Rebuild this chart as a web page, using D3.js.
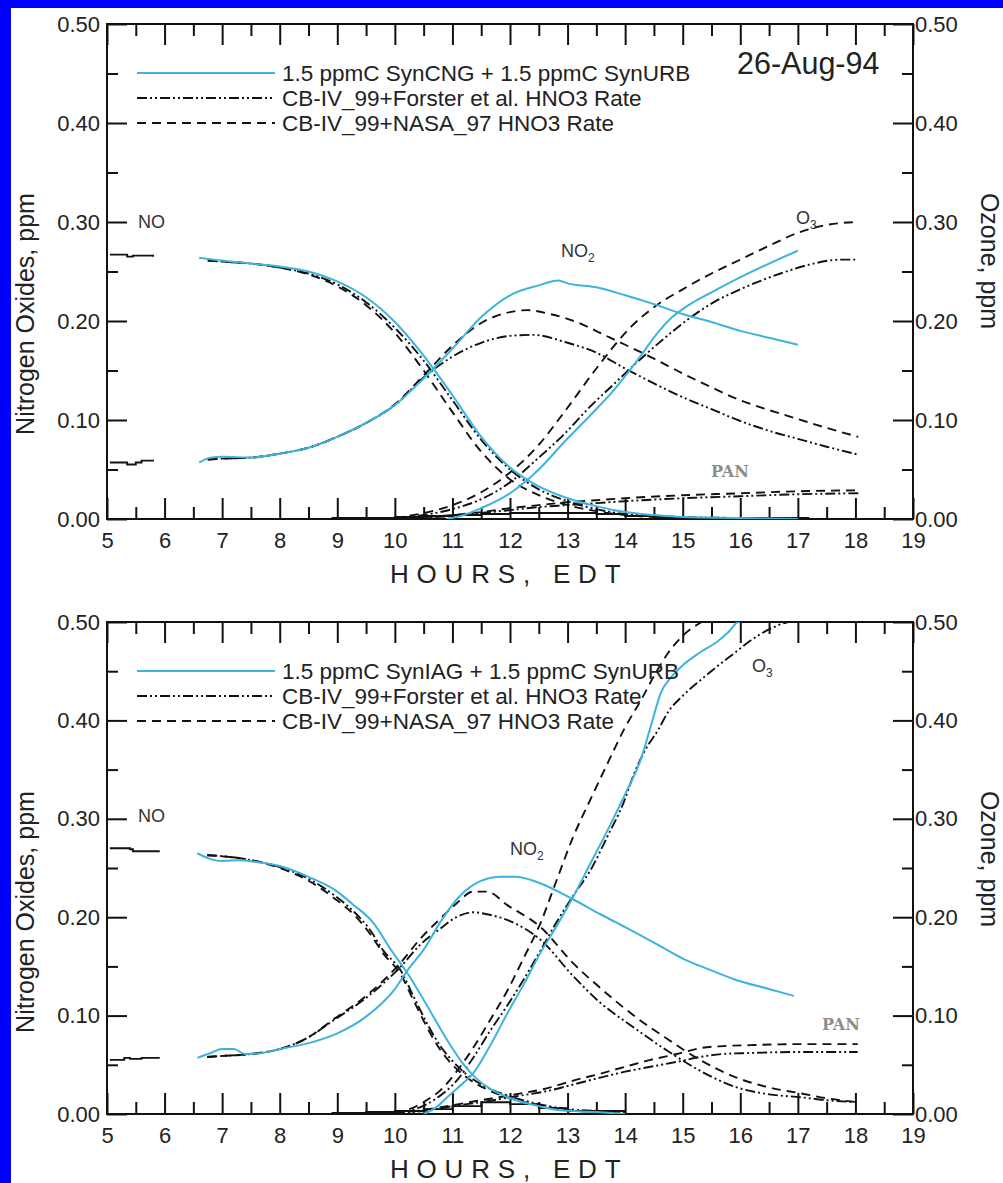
<!DOCTYPE html>
<html>
<head>
<meta charset="utf-8">
<script src="https://cdn.jsdelivr.net/npm/d3@7"></script>
<style>
  html, body { margin: 0; padding: 0; background: #fff; }
  svg { display: block; font-family: "Liberation Sans", Arial, sans-serif; }
</style>
</head>
<body>
<svg id="chart" width="1003" height="1183"></svg>
<script>
// ---------- axis ticks ----------
const hourTicks = d3.range(5, 20);
const hourMinor = d3.range(5.5, 19, 1);
const ppmTicks = [0, 0.1, 0.2, 0.3, 0.4, 0.5];
const ppmMinor = [0.05, 0.15, 0.25, 0.35, 0.45];

const legendTop = ['1.5 ppmC SynCNG + 1.5 ppmC SynURB', 'CB-IV_99+Forster et al. HNO3 Rate', 'CB-IV_99+NASA_97 HNO3 Rate'];
const legendBottom = ['1.5 ppmC SynIAG + 1.5 ppmC SynURB', 'CB-IV_99+Forster et al. HNO3 Rate', 'CB-IV_99+NASA_97 HNO3 Rate'];

// ---------- top panel (26-Aug-94, SynCNG) : [hour, ppm] ----------
const topObsNO = [[5.05, 0.267], [5.3, 0.267], [5.35, 0.265], [5.45, 0.266], [5.6, 0.266], [5.8, 0.265]];
const topObsNO2 = [[5.05, 0.057], [5.3, 0.057], [5.35, 0.055], [5.5, 0.057], [5.6, 0.059], [5.8, 0.058]];
const topObsLow = [[8.9, 0.001], [9.5, 0.001], [10, 0.002], [10.5, 0.003], [11, 0.004], [11.5, 0.005], [12, 0.006], [13, 0.006], [13.5, 0.005], [14, 0.003], [14.5, 0.002], [15, 0.001], [17.2, 0.001]];

const topSimNO = [[6.6, 0.264], [7, 0.261], [7.5, 0.258], [8, 0.255], [8.5, 0.25], [9, 0.24], [9.5, 0.224], [10, 0.199], [10.5, 0.165], [11, 0.125], [11.5, 0.083], [12, 0.052], [12.5, 0.033], [13, 0.021], [13.5, 0.013], [14, 0.007], [14.5, 0.004], [15, 0.002], [16, 0.001], [17, 0]];
const topSimNO2 = [[6.6, 0.057], [6.8, 0.062], [7, 0.063], [7.5, 0.062], [8, 0.066], [8.5, 0.072], [9, 0.083], [9.5, 0.097], [10, 0.115], [10.5, 0.142], [11, 0.172], [11.5, 0.204], [12, 0.226], [12.5, 0.236], [12.84, 0.241], [13, 0.238], [13.5, 0.234], [14, 0.226], [14.5, 0.217], [15, 0.207], [15.5, 0.199], [16, 0.19], [16.5, 0.183], [17, 0.176]];
const topSimO3 = [[10.9, 0], [11.2, 0.004], [11.5, 0.011], [12, 0.026], [12.5, 0.05], [12.93, 0.077], [13.4, 0.105], [13.8, 0.13], [14.26, 0.164], [14.55, 0.187], [14.8, 0.203], [15.1, 0.216], [15.5, 0.229], [16.1, 0.247], [16.5, 0.258], [17, 0.271]];

const topForNO = [[6.75, 0.261], [7, 0.26], [7.5, 0.258], [8, 0.254], [8.5, 0.248], [9, 0.237], [9.5, 0.219], [10, 0.193], [10.5, 0.16], [11, 0.12], [11.5, 0.08], [12, 0.05], [12.5, 0.03], [13, 0.018], [13.5, 0.01], [14, 0.005], [15, 0.002], [16, 0.001], [17, 0]];
const topForNO2 = [[6.75, 0.06], [7, 0.061], [7.5, 0.062], [8, 0.066], [8.5, 0.072], [9, 0.083], [9.5, 0.097], [10, 0.115], [10.5, 0.143], [11, 0.164], [11.5, 0.178], [12, 0.185], [12.4, 0.186], [13, 0.178], [13.5, 0.168], [14, 0.152], [14.5, 0.137], [15, 0.123], [15.5, 0.111], [16, 0.099], [16.5, 0.089], [17, 0.081], [17.5, 0.073], [18.05, 0.065]];
const topForO3 = [[10, 0.001], [10.5, 0.004], [11, 0.01], [11.5, 0.02], [12, 0.037], [12.5, 0.062], [12.93, 0.085], [13.4, 0.114], [13.8, 0.136], [14.2, 0.158], [14.67, 0.182], [15.1, 0.202], [15.54, 0.219], [16, 0.232], [16.7, 0.248], [17.2, 0.257], [17.75, 0.262], [18.05, 0.262]];
const topForPAN = [[10.3, 0.001], [11, 0.003], [11.5, 0.006], [12, 0.009], [12.5, 0.012], [13, 0.014], [13.5, 0.016], [14, 0.018], [15, 0.021], [16, 0.023], [17, 0.025], [18.05, 0.026]];

const topNasaNO = [[6.75, 0.261], [7, 0.26], [7.5, 0.258], [8, 0.254], [8.5, 0.247], [9, 0.235], [9.5, 0.216], [10, 0.188], [10.5, 0.15], [11, 0.108], [11.5, 0.068], [12, 0.04], [12.5, 0.024], [13, 0.014], [13.5, 0.008], [14, 0.004], [15, 0.001], [16, 0], [17, 0]];
const topNasaNO2 = [[6.75, 0.06], [7, 0.061], [7.5, 0.062], [8, 0.066], [8.5, 0.072], [9, 0.083], [9.5, 0.097], [10, 0.116], [10.5, 0.145], [11, 0.175], [11.5, 0.198], [12, 0.209], [12.3, 0.211], [12.7, 0.207], [13.2, 0.198], [13.6, 0.187], [14, 0.176], [14.5, 0.162], [15, 0.147], [15.5, 0.133], [16, 0.12], [16.5, 0.11], [17, 0.101], [17.5, 0.092], [18.05, 0.083]];
const topNasaO3 = [[10, 0.001], [10.5, 0.006], [11, 0.014], [11.5, 0.027], [12, 0.047], [12.5, 0.075], [12.93, 0.107], [13.5, 0.152], [14.1, 0.194], [14.5, 0.214], [15, 0.232], [15.5, 0.248], [16, 0.262], [16.5, 0.276], [17, 0.289], [17.5, 0.297], [18.05, 0.3]];
const topNasaPAN = [[10.3, 0.001], [11, 0.004], [11.5, 0.007], [12, 0.011], [12.5, 0.014], [13, 0.017], [13.5, 0.019], [14, 0.021], [15, 0.024], [16, 0.026], [17, 0.028], [18.05, 0.029]];

// ---------- bottom panel (SynIAG) ----------
const botObsNO = [[5.05, 0.27], [5.4, 0.269], [5.45, 0.267], [5.9, 0.266]];
const botObsNO2 = [[5.05, 0.055], [5.3, 0.057], [5.4, 0.056], [5.6, 0.057], [5.9, 0.058]];
const botObsLow = [[8.9, 0.001], [9.5, 0.002], [10, 0.003], [10.5, 0.005], [11, 0.008], [11.5, 0.012], [12, 0.01], [12.5, 0.006], [13, 0.003], [14, 0.001]];

const botSimNO = [[6.57, 0.265], [6.8, 0.259], [7, 0.257], [7.3, 0.258], [7.6, 0.256], [8, 0.252], [8.5, 0.241], [9, 0.226], [9.25, 0.214], [9.63, 0.194], [9.92, 0.168], [10.22, 0.143], [10.57, 0.109], [10.91, 0.075], [11.2, 0.05], [11.4, 0.037], [11.96, 0.017], [12.5, 0.008], [12.83, 0.004], [13.5, 0.002], [14, 0]];
const botSimNO2 = [[6.57, 0.057], [6.8, 0.062], [7, 0.066], [7.2, 0.066], [7.4, 0.061], [7.7, 0.062], [8, 0.066], [8.5, 0.072], [9, 0.082], [9.5, 0.099], [10, 0.127], [10.22, 0.146], [10.5, 0.167], [10.8, 0.196], [11.09, 0.219], [11.4, 0.234], [11.83, 0.241], [12.1, 0.241], [12.5, 0.235], [13.1, 0.218], [13.57, 0.203], [14, 0.19], [14.57, 0.172], [15, 0.158], [15.5, 0.146], [15.89, 0.137], [16.5, 0.127], [16.93, 0.12]];
const botSimO3 = [[10.5, 0], [10.7, 0.006], [10.91, 0.017], [11.1, 0.027], [11.37, 0.042], [11.66, 0.07], [11.96, 0.103], [12.25, 0.133], [12.53, 0.164], [12.8, 0.19], [13.1, 0.221], [13.4, 0.255], [13.7, 0.289], [14, 0.325], [14.27, 0.36], [14.45, 0.395], [14.62, 0.428], [14.8, 0.444], [15.02, 0.457], [15.3, 0.469], [15.6, 0.48], [15.8, 0.49], [15.96, 0.5], [16.5, 0.505]];

const botForNO = [[6.74, 0.263], [7, 0.262], [7.5, 0.258], [8, 0.251], [8.5, 0.239], [9, 0.22], [9.3, 0.205], [9.57, 0.187], [9.8, 0.166], [10.1, 0.146], [10.32, 0.12], [10.55, 0.093], [10.78, 0.07], [11, 0.054], [11.25, 0.04], [11.6, 0.027], [12, 0.018], [12.5, 0.01], [13, 0.005], [13.5, 0.003], [14, 0.001]];
const botForNO2 = [[6.74, 0.058], [7, 0.059], [7.5, 0.061], [8, 0.066], [8.5, 0.078], [8.93, 0.095], [9.5, 0.118], [9.86, 0.136], [10.09, 0.149], [10.44, 0.172], [10.78, 0.188], [11.07, 0.2], [11.36, 0.205], [11.6, 0.203], [12, 0.196], [12.53, 0.177], [13.1, 0.14], [13.57, 0.113], [14.1, 0.09], [14.74, 0.064], [15.3, 0.044], [15.89, 0.028], [16.5, 0.02], [17.05, 0.017], [17.5, 0.014], [18.04, 0.012]];
const botForO3 = [[10, 0.001], [10.4, 0.006], [10.7, 0.015], [11.09, 0.035], [11.37, 0.058], [11.66, 0.085], [11.95, 0.11], [12.23, 0.136], [12.5, 0.163], [12.8, 0.194], [13.1, 0.222], [13.4, 0.248], [13.7, 0.283], [13.97, 0.316], [14.15, 0.345], [14.35, 0.37], [14.57, 0.39], [14.74, 0.408], [15, 0.425], [15.31, 0.441], [15.6, 0.455], [15.89, 0.468], [16.2, 0.482], [16.48, 0.492], [16.83, 0.5], [17, 0.502]];
const botForPAN = [[10, 0.001], [10.5, 0.003], [11, 0.008], [11.5, 0.012], [12, 0.017], [12.7, 0.024], [13.1, 0.03], [13.57, 0.037], [14, 0.043], [14.44, 0.048], [14.9, 0.053], [15.31, 0.058], [15.7, 0.061], [16.18, 0.062], [17, 0.063], [18.04, 0.063]];

const botNasaNO = [[6.74, 0.263], [7, 0.262], [7.5, 0.258], [8, 0.25], [8.5, 0.237], [9, 0.217], [9.3, 0.202], [9.57, 0.183], [9.8, 0.163], [10.1, 0.142], [10.32, 0.116], [10.55, 0.089], [10.78, 0.066], [11, 0.05], [11.25, 0.037], [11.6, 0.025], [12, 0.016], [12.5, 0.009], [13, 0.004], [13.5, 0.002], [14, 0.001]];
const botNasaNO2 = [[6.74, 0.058], [7, 0.059], [7.5, 0.061], [8, 0.066], [8.5, 0.078], [8.93, 0.096], [9.5, 0.12], [9.86, 0.139], [10.09, 0.153], [10.44, 0.178], [10.78, 0.198], [11.07, 0.214], [11.36, 0.226], [11.6, 0.226], [11.96, 0.212], [12.53, 0.19], [13.1, 0.153], [13.57, 0.128], [14.15, 0.1], [14.74, 0.076], [15.3, 0.055], [15.89, 0.038], [16.5, 0.027], [17.05, 0.021], [17.5, 0.016], [18.04, 0.012]];
const botNasaO3 = [[10, 0.001], [10.3, 0.006], [10.55, 0.014], [10.79, 0.024], [11.07, 0.043], [11.37, 0.068], [11.66, 0.096], [11.96, 0.126], [12.25, 0.16], [12.53, 0.194], [12.8, 0.236], [13.1, 0.282], [13.4, 0.32], [13.7, 0.357], [14, 0.393], [14.27, 0.42], [14.5, 0.445], [14.74, 0.468], [15, 0.486], [15.3, 0.499], [15.6, 0.506]];
const botNasaPAN = [[10, 0.001], [10.5, 0.004], [11, 0.009], [11.5, 0.014], [12, 0.019], [12.7, 0.027], [13.1, 0.034], [13.57, 0.041], [14, 0.048], [14.44, 0.055], [14.9, 0.061], [15.31, 0.067], [15.7, 0.069], [16.18, 0.07], [17, 0.071], [18.04, 0.071]];

// ---------- drawing ----------
const SIM_BLUE = '#3db3dd';
const styles = {
    obs: { stroke: '#111', dash: null, curve: d3.curveStepAfter },
    sim: { stroke: SIM_BLUE, dash: null, curve: d3.curveMonotoneX },
    forster: { stroke: '#111', dash: '10,3,2,3,2,3', curve: d3.curveMonotoneX },
    nasa: { stroke: '#111', dash: '9,6', curve: d3.curveMonotoneX }
};

const svg = d3.select('#chart');

// blue frame of the scan
svg.append('rect').attr('x', 0).attr('y', 0).attr('width', 1003).attr('height', 8).attr('fill', '#0000ff');
svg.append('rect').attr('x', 0).attr('y', 0).attr('width', 11).attr('height', 1183).attr('fill', '#0000ff');

const left = 107, right = 913;
const x = d3.scaleLinear().domain([5, 19]).range([left, right]);

function drawPanel(p) {
    const y = d3.scaleLinear().domain([0, 0.5]).range([p.bottom, p.top]);
    const g = svg.append('g');
    const h = p.bottom - p.top;

    const clipId = 'clip' + p.id;
    svg.append('clipPath').attr('id', clipId)
        .append('rect').attr('x', left).attr('y', p.top).attr('width', right - left).attr('height', h);

    // ticks (inward)
    const major = (axis, size) => axis.tickSizeInner(-size).tickSizeOuter(0);
    g.append('g').attr('transform', `translate(0,${p.bottom})`)
        .call(major(d3.axisBottom(x).tickValues(hourTicks), 21).tickPadding(13).tickFormat(d3.format('d')));
    g.append('g').attr('transform', `translate(0,${p.bottom})`)
        .call(major(d3.axisBottom(x).tickValues(hourMinor), 12).tickFormat(''));
    g.append('g').attr('transform', `translate(0,${p.top})`)
        .call(major(d3.axisTop(x).tickValues(hourTicks), 21).tickFormat(''));
    g.append('g').attr('transform', `translate(0,${p.top})`)
        .call(major(d3.axisTop(x).tickValues(hourMinor), 12).tickFormat(''));
    g.append('g').attr('transform', `translate(${left},0)`)
        .call(major(d3.axisLeft(y).tickValues(ppmTicks), 20).tickPadding(7).tickFormat(d3.format('.2f')));
    g.append('g').attr('transform', `translate(${left},0)`)
        .call(major(d3.axisLeft(y).tickValues(ppmMinor), 11).tickFormat(''));
    g.append('g').attr('transform', `translate(${right},0)`)
        .call(major(d3.axisRight(y).tickValues(ppmTicks), 20).tickPadding(2).tickFormat(d3.format('.2f')));
    g.append('g').attr('transform', `translate(${right},0)`)
        .call(major(d3.axisRight(y).tickValues(ppmMinor), 11).tickFormat(''));

    g.selectAll('.domain').remove();
    g.selectAll('.tick line').attr('stroke', '#111').attr('stroke-width', 2);
    g.selectAll('.tick text').attr('fill', '#222').attr('font-size', 22)
        .attr('font-family', '"Liberation Sans", Arial, sans-serif');

    g.append('rect').attr('x', left).attr('y', p.top).attr('width', right - left).attr('height', h)
        .attr('fill', 'none').attr('stroke', '#111').attr('stroke-width', 2);

    // series
    const lines = g.append('g').attr('clip-path', `url(#${clipId})`);
    p.series.forEach(s => {
        const st = styles[s.style];
        const line = d3.line().x(d => x(d[0])).y(d => y(d[1])).curve(st.curve);
        lines.append('path')
            .attr('d', line(s.data))
            .attr('fill', 'none')
            .attr('stroke', st.stroke)
            .attr('stroke-width', s.style === 'sim' ? 2 : 1.9)
            .attr('stroke-dasharray', st.dash);
    });

    // legend
    const lg = g.append('g');
    ['sim', 'forster', 'nasa'].forEach((k, i) => {
        const ly = p.top + 49 + i * 25;
        lg.append('line').attr('x1', 137).attr('x2', 275).attr('y1', ly).attr('y2', ly)
            .attr('stroke', styles[k].stroke).attr('stroke-width', 2)
            .attr('stroke-dasharray', styles[k].dash);
        lg.append('text').attr('x', 282).attr('y', ly + 8)
            .attr('font-size', 22.5).attr('fill', '#222')
            .text(p.legend[i]);
    });

    // axis titles
    g.append('text')
        .attr('x', 390).attr('y', p.bottom + 64)
        .attr('font-size', 26).attr('letter-spacing', 7.8).attr('fill', '#222')
        .text('HOURS, EDT');
    g.append('text')
        .attr('transform', `translate(34,${p.top + 290}) rotate(-90)`)
        .attr('text-anchor', 'middle').attr('font-size', 25).attr('fill', '#222')
        .text('Nitrogen Oxides, ppm');
    g.append('text')
        .attr('transform', `translate(981,${p.top + 237}) rotate(90)`)
        .attr('text-anchor', 'middle').attr('font-size', 25).attr('fill', '#222')
        .text('Ozone, ppm');

    // species labels
    p.labels.forEach(l => {
        const t = g.append('text').attr('x', l.x).attr('y', l.y)
            .attr('font-size', 18).attr('fill', '#333');
        if (l.serif) {
            t.attr('font-family', '"DejaVu Serif", "Liberation Serif", serif')
                .attr('font-weight', 'bold').attr('font-size', 16).attr('fill', '#8c8c8c');
        }
        t.append('tspan').text(l.text);
        if (l.sub) t.append('tspan').attr('font-size', 12).attr('dy', 5).text(l.sub);
    });

    if (p.date) {
        g.append('text').attr('x', 737).attr('y', p.top + 50)
            .attr('font-size', 30.5).attr('fill', '#222').text(p.date);
    }
}

drawPanel({
    id: 'top', top: 24, bottom: 519, legend: legendTop, date: '26-Aug-94',
    series: [
        { style: 'obs', data: topObsNO }, { style: 'obs', data: topObsNO2 }, { style: 'obs', data: topObsLow },
        { style: 'nasa', data: topNasaNO }, { style: 'nasa', data: topNasaNO2 }, { style: 'nasa', data: topNasaO3 }, { style: 'nasa', data: topNasaPAN },
        { style: 'forster', data: topForNO }, { style: 'forster', data: topForNO2 }, { style: 'forster', data: topForO3 }, { style: 'forster', data: topForPAN },
        { style: 'sim', data: topSimNO }, { style: 'sim', data: topSimNO2 }, { style: 'sim', data: topSimO3 }
    ],
    labels: [
        { x: 138, y: 228, text: 'NO' },
        { x: 561, y: 257, text: 'NO', sub: '2' },
        { x: 796, y: 224, text: 'O', sub: '3' },
        { x: 711, y: 477, text: 'PAN', serif: true }
    ]
});

drawPanel({
    id: 'bot', top: 622, bottom: 1114, legend: legendBottom,
    series: [
        { style: 'obs', data: botObsNO }, { style: 'obs', data: botObsNO2 }, { style: 'obs', data: botObsLow },
        { style: 'nasa', data: botNasaNO }, { style: 'nasa', data: botNasaNO2 }, { style: 'nasa', data: botNasaO3 }, { style: 'nasa', data: botNasaPAN },
        { style: 'forster', data: botForNO }, { style: 'forster', data: botForNO2 }, { style: 'forster', data: botForO3 }, { style: 'forster', data: botForPAN },
        { style: 'sim', data: botSimNO }, { style: 'sim', data: botSimNO2 }, { style: 'sim', data: botSimO3 }
    ],
    labels: [
        { x: 138, y: 822, text: 'NO' },
        { x: 510, y: 855, text: 'NO', sub: '2' },
        { x: 752, y: 672, text: 'O', sub: '3' },
        { x: 822, y: 1030, text: 'PAN', serif: true }
    ]
});
</script>
</body>
</html>
